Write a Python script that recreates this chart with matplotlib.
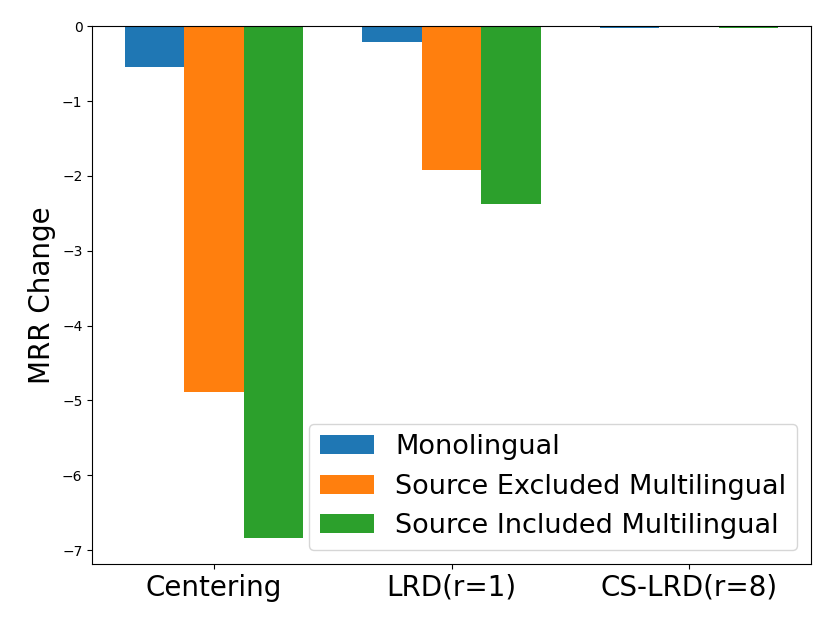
import numpy as np
from matplotlib import pyplot as plt

# MRR change per method
methods = ['Centering', 'LRD(r=1)', 'CS-LRD(r=8)']
monolingual = [-0.55, -0.21, -0.02]
src_excluded = [-4.89, -1.92, -0.005]
src_included = [-6.84, -2.38, -0.03]

series = [
    ('Monolingual', monolingual),
    ('Source Excluded Multilingual', src_excluded),
    ('Source Included Multilingual', src_included),
]

fig, ax = plt.subplots(figsize=(8.3, 6.23), dpi=100)
fig.subplots_adjust(left=0.111, right=0.977, top=0.958, bottom=0.095)

x = np.arange(len(methods))
width = 0.25
for i, (name, vals) in enumerate(series):
    ax.bar(x + (i - 1) * width, vals, width, label=name)

ax.set_xticks(x)
ax.set_xticklabels(methods, fontsize=20)
ax.set_ylabel('MRR Change', fontsize=20)
ax.legend(loc='lower right', fontsize=19.5)

fig.savefig('out.png')
